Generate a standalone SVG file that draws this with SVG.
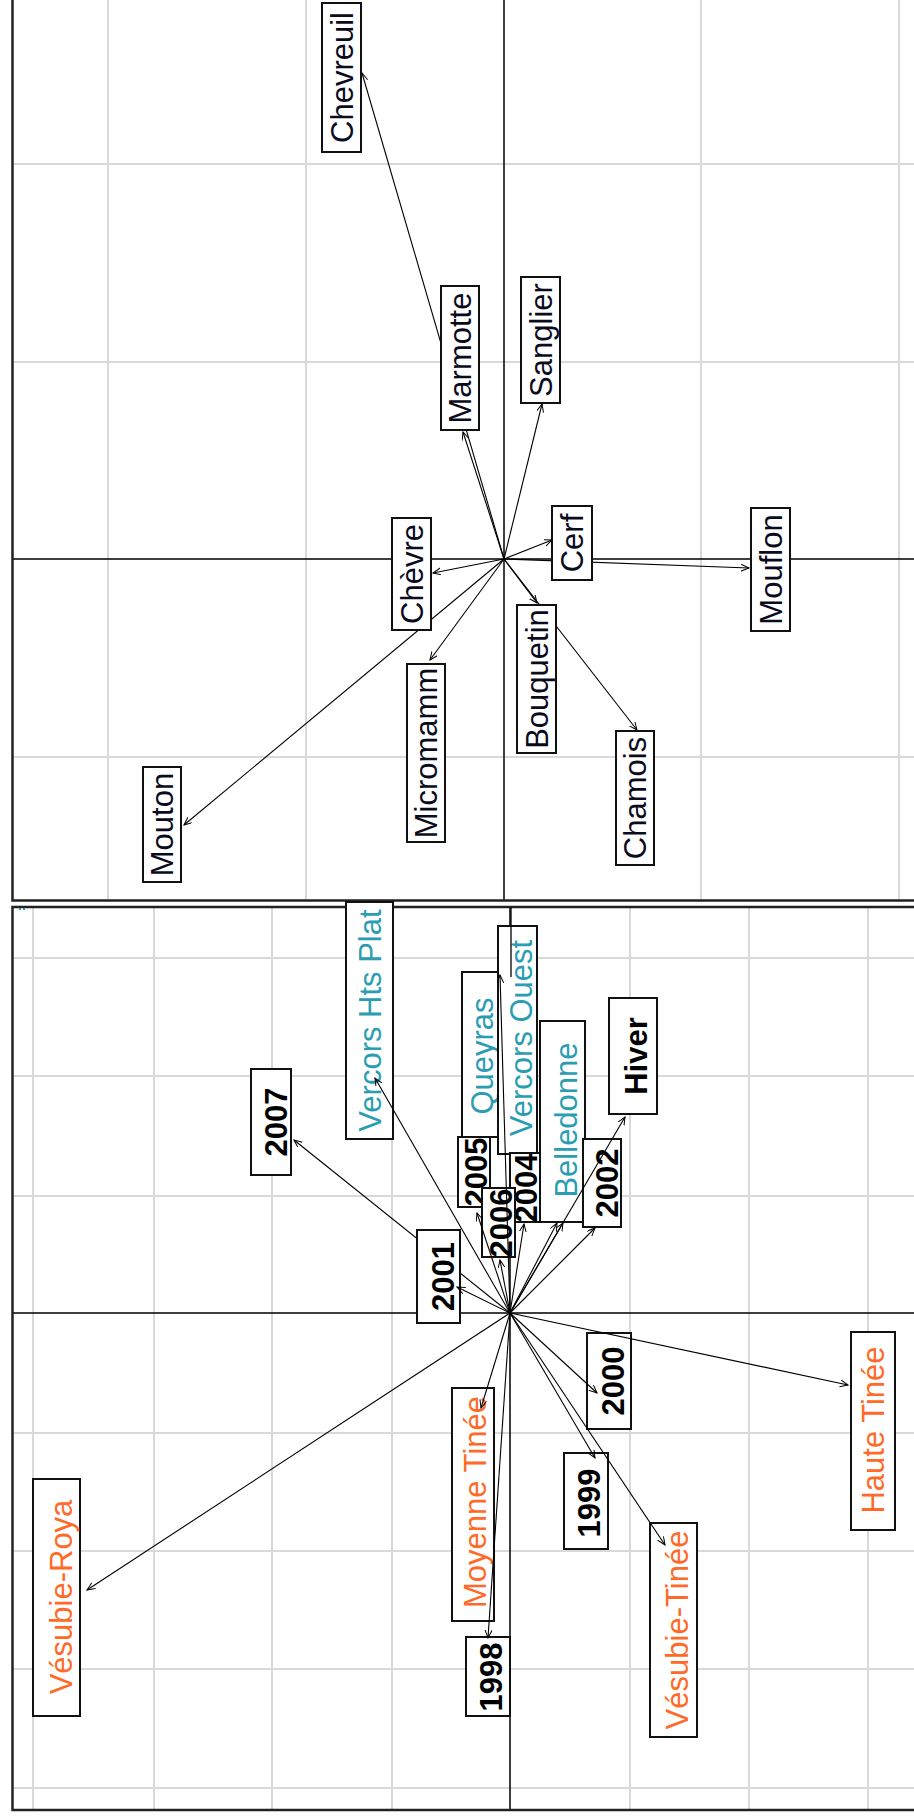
<svg xmlns="http://www.w3.org/2000/svg" width="914" height="1816" viewBox="0 0 914 1816">
<style>
.bg{fill:#fff}
.grid{stroke:#d9d9d9;stroke-width:2;fill:none}
.axis{stroke:#000;stroke-width:1.5;fill:none}
.frame{stroke:#222;stroke-width:2.5;fill:none}
.arr{stroke:#000;stroke-width:1.1;fill:none;marker-end:url(#ah)}
.seg{stroke:#000;stroke-width:1.3;fill:none}
.box{fill:#fff;stroke:#111;stroke-width:2}
.lbl{font-family:"Liberation Sans",Arial,sans-serif;font-size:31px;text-anchor:middle;fill:#0b0b1e}
.teal{fill:#2a9db2}
.orange{fill:#ff6a28}
.yr{font-weight:bold;fill:#000}
</style>
<defs>
<marker id="ah" markerWidth="10" markerHeight="8" refX="8" refY="3.5" orient="auto" markerUnits="userSpaceOnUse">
<path d="M0,0 L8,3.5 L0,7" fill="none" stroke="#000" stroke-width="1"/>
</marker>
</defs>
<rect class="bg" x="0" y="0" width="914" height="1816"/>

<!-- TOP PANEL -->
<g id="top-grid">
<path class="grid" d="M108,0V900M306,0V900M701,0V900M899,0V900M12,164H914M12,362H914M12,757H914"/>
<path class="axis" d="M504,0V900M12,559H914"/>
<path class="frame" d="M12.5,0V900.5H914"/>
</g>
<g id="top-connectors">
<line class="arr" x1="504" y1="559" x2="362" y2="73"/>
<line class="arr" x1="504" y1="559" x2="463" y2="432"/>
<line class="arr" x1="504" y1="559" x2="542" y2="404"/>
<line class="arr" x1="504" y1="559" x2="552" y2="540"/>
<line class="arr" x1="504" y1="559" x2="749" y2="568"/>
<line class="arr" x1="504" y1="559" x2="433" y2="573"/>
<line class="arr" x1="504" y1="559" x2="430" y2="660"/>
<line class="arr" x1="504" y1="559" x2="184" y2="825"/>
<line class="arr" x1="504" y1="559" x2="537" y2="603"/>
<line class="arr" x1="504" y1="559" x2="637" y2="730"/>
</g>
<g id="node-chevreuil"><rect class="box" x="322" y="3" width="39" height="149"/><text class="lbl" transform="translate(353,77.5) rotate(-90)">Chevreuil</text></g>
<g id="node-marmotte"><rect class="box" x="441" y="286" width="38" height="144"/><text class="lbl" transform="translate(471,358) rotate(-90)">Marmotte</text></g>
<g id="node-sanglier"><rect class="box" x="521" y="277" width="39" height="126"/><text class="lbl" transform="translate(551.5,340) rotate(-90)">Sanglier</text></g>
<g id="node-chevre"><rect class="box" x="392" y="518" width="39" height="112"/><text class="lbl" transform="translate(423,574) rotate(-90)">Chèvre</text></g>
<g id="node-cerf"><rect class="box" x="552" y="506" width="40" height="74"/><text class="lbl" transform="translate(583,543) rotate(-90)">Cerf</text></g>
<g id="node-mouflon"><rect class="box" x="751" y="508" width="39" height="123"/><text class="lbl" transform="translate(781.5,569.5) rotate(-90)">Mouflon</text></g>
<g id="node-bouquetin"><rect class="box" x="517" y="605" width="39" height="148"/><text class="lbl" transform="translate(547.5,679) rotate(-90)">Bouquetin</text></g>
<g id="node-chamois"><rect class="box" x="616" y="731" width="38" height="134"/><text class="lbl" transform="translate(646,798) rotate(-90)">Chamois</text></g>
<g id="node-micromamm"><rect class="box" x="407" y="664" width="38" height="178"/><text class="lbl" transform="translate(437,753) rotate(-90)">Micromamm</text></g>
<g id="node-mouton"><rect class="box" x="143" y="767" width="38" height="115"/><text class="lbl" transform="translate(173,824.5) rotate(-90)">Mouton</text></g>

<!-- BOTTOM PANEL -->
<g id="bottom-grid">
<path class="grid" d="M33,907V1810M154,907V1810M272,907V1810M392,907V1810M630,907V1810M749,907V1810M868,907V1810M12,958H914M12,1076H914M12,1196H914M12,1433H914M12,1551H914M12,1669H914M12,1788H914"/>
<path class="axis" d="M510,907V1810M12,1313H914"/>
<path class="frame" d="M914,907H12.5V1810H914"/>
<rect x="19" y="908" width="2" height="2" fill="#2a9db2"/>
<rect x="23" y="908" width="2" height="2" fill="#2a9db2"/>
</g>
<g id="node-vercors-hts-plat"><rect class="box" x="346" y="902" width="47" height="237"/><text class="lbl teal" transform="translate(381,1020.5) rotate(-90)">Vercors Hts Plat</text></g>
<g id="node-queyras"><rect class="box" x="462" y="972" width="38" height="165"/><text class="lbl teal" transform="translate(493,1056) rotate(-90)">Queyras</text></g>
<g id="node-vercors-ouest"><rect class="box" x="498" y="926" width="39" height="228"/><text class="lbl teal" transform="translate(532,1038) rotate(-90)">Vercors Ouest</text></g>
<g id="node-belledonne"><rect class="box" x="540" y="1021" width="45" height="201"/><text class="lbl teal" transform="translate(577,1120) rotate(-90)">Belledonne</text></g>
<g id="node-moyenne-tinee"><rect class="box" x="452" y="1388" width="42" height="233"/><text class="lbl orange" transform="translate(486,1502) rotate(-90)">Moyenne Tinée</text></g>
<g id="node-vesubie-roya"><rect class="box" x="33" y="1479" width="47" height="237"/><text class="lbl orange" transform="translate(72,1597) rotate(-90)">Vésubie-Roya</text></g>
<g id="node-vesubie-tinee"><rect class="box" x="650" y="1523" width="47" height="214"/><text class="lbl orange" transform="translate(688,1630) rotate(-90)">Vésubie-Tinée</text></g>
<g id="node-haute-tinee"><rect class="box" x="851" y="1332" width="44" height="198"/><text class="lbl orange" transform="translate(884,1430) rotate(-90)">Haute Tinée</text></g>
<g id="node-hiver"><rect class="box" x="609" y="998" width="48" height="116"/><text class="lbl yr" transform="translate(647,1056) rotate(-90)">Hiver</text></g>
<g id="node-2007"><rect class="box" x="251" y="1069" width="40" height="106"/><text class="lbl yr" transform="translate(287,1122) rotate(-90)">2007</text></g>
<g id="node-2005"><rect class="box" x="458" y="1137" width="32" height="70"/><text class="lbl yr" transform="translate(487,1172) rotate(-90)">2005</text></g>
<g id="node-2004"><rect class="box" x="510" y="1153" width="30" height="69"/><text class="lbl yr" transform="translate(537,1188) rotate(-90)">2004</text></g>
<g id="node-2006"><rect class="box" x="482" y="1188" width="33" height="69"/><text class="lbl yr" transform="translate(512,1223) rotate(-90)">2006</text></g>
<g id="node-2002"><rect class="box" x="583" y="1139" width="38" height="88"/><text class="lbl yr" transform="translate(618,1183) rotate(-90)">2002</text></g>
<g id="node-2000"><rect class="box" x="587" y="1333" width="44" height="96"/><text class="lbl yr" transform="translate(624,1381) rotate(-90)">2000</text></g>
<g id="node-1999"><rect class="box" x="564" y="1453" width="44" height="96"/><text class="lbl yr" transform="translate(600,1503) rotate(-90)">1999</text></g>
<g id="node-1998"><rect class="box" x="466" y="1637" width="44" height="79"/><text class="lbl yr" transform="translate(502,1677) rotate(-90)">1998</text></g>
<g id="bottom-connector-2007">
<line class="arr" x1="510" y1="1313" x2="294" y2="1140"/>
</g>
<g id="node-2001"><rect class="box" x="417" y="1230" width="43" height="93"/><text class="lbl yr" transform="translate(454,1276.5) rotate(-90)">2001</text></g>
<g id="bottom-connectors">
<line class="arr" x1="510" y1="1313" x2="375" y2="1078"/>
<line class="arr" x1="510" y1="1313" x2="500" y2="975"/>
<line class="arr" x1="510" y1="1313" x2="563" y2="1223"/>
<line class="arr" x1="510" y1="1313" x2="557" y2="1223"/>
<line class="arr" x1="510" y1="1313" x2="481" y2="1408"/>
<line class="arr" x1="510" y1="1313" x2="87" y2="1590"/>
<line class="arr" x1="510" y1="1313" x2="665" y2="1545"/>
<line class="arr" x1="510" y1="1313" x2="848" y2="1385"/>
<line class="arr" x1="510" y1="1313" x2="625" y2="1117"/>
<line class="arr" x1="510" y1="1313" x2="595" y2="1228"/>
<line class="arr" x1="510" y1="1313" x2="457" y2="1287"/>
<line class="arr" x1="510" y1="1313" x2="477" y2="1213"/>
<line class="arr" x1="510" y1="1313" x2="500" y2="1260"/>
<line class="arr" x1="510" y1="1313" x2="524" y2="1224"/>
<line class="arr" x1="510" y1="1313" x2="597" y2="1393"/>
<line class="arr" x1="510" y1="1313" x2="595" y2="1458"/>
<line class="arr" x1="510" y1="1313" x2="488" y2="1638"/>
<line class="seg" x1="511" y1="907" x2="511" y2="977"/>
</g>
</svg>
